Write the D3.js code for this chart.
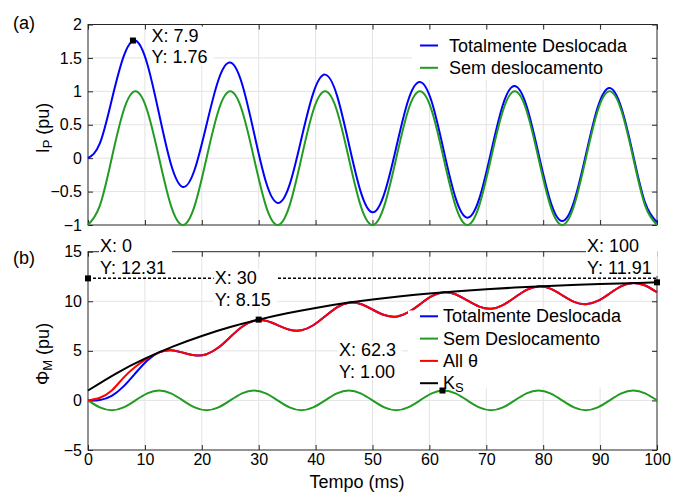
<!DOCTYPE html>
<html>
<head>
<meta charset="utf-8">
<script src="https://cdn.jsdelivr.net/npm/d3@7"></script>
<style>
body { margin: 0; background: #fff; }
text { font-family: "Liberation Sans", Arial, sans-serif; fill: #000; }
</style>
</head>
<body>
<script>
// time axis (ms), one sample every 1/8 cycle of 60 Hz
var tempo = [0, 2.08, 4.17, 6.25, 8.33, 10.42, 12.5, 14.58,
  16.67, 18.75, 20.83, 22.92, 25, 27.08, 29.17, 31.25,
  33.33, 35.42, 37.5, 39.58, 41.67, 43.75, 45.83, 47.92,
  50, 52.08, 54.17, 56.25, 58.33, 60.42, 62.5, 64.58,
  66.67, 68.75, 70.83, 72.92, 75, 77.08, 79.17, 81.25,
  83.33, 85.42, 87.5, 89.58, 91.67, 93.75, 95.83, 97.92, 100];

// (a) current
var ipDeslocada = [0, 0.22, 0.87, 1.52, 1.76, 1.41, 0.66, -0.09,
  -0.43, -0.17, 0.50, 1.17, 1.43, 1.11, 0.38, -0.35,
  -0.67, -0.40, 0.29, 0.97, 1.25, 0.94, 0.22, -0.50,
  -0.81, -0.53, 0.16, 0.86, 1.14, 0.84, 0.12, -0.59,
  -0.89, -0.61, 0.09, 0.80, 1.08, 0.78, 0.07, -0.64,
  -0.94, -0.65, 0.05, 0.76, 1.05, 0.75, 0.04, -0.67, -0.96];
var ipSem = [-1, -0.71, 0, 0.71, 1, 0.71, 0, -0.71,
  -1, -0.71, 0, 0.71, 1, 0.71, 0, -0.71,
  -1, -0.71, 0, 0.71, 1, 0.71, 0, -0.71,
  -1, -0.71, 0, 0.71, 1, 0.71, 0, -0.71,
  -1, -0.71, 0, 0.71, 1, 0.71, 0, -0.71,
  -1, -0.71, 0, 0.71, 1, 0.71, 0, -0.71, -1];

// (b) flux
var phiDeslocada = [0, 0.05, 0.47, 1.42, 2.74, 4.03, 4.85, 5.06,
  4.82, 4.55, 4.66, 5.33, 6.39, 7.43, 8.03, 8.03,
  7.59, 7.13, 7.07, 7.58, 8.49, 9.39, 9.86, 9.73,
  9.17, 8.61, 8.45, 8.87, 9.69, 10.51, 10.90, 10.71,
  10.08, 9.46, 9.24, 9.61, 10.38, 11.15, 11.50, 11.27,
  10.61, 9.94, 9.70, 10.03, 10.78, 11.52, 11.85, 11.59, 10.91];
var phiSem = [0, -0.71, -1, -0.71, 0, 0.71, 1, 0.71,
  0, -0.71, -1, -0.71, 0, 0.71, 1, 0.71,
  0, -0.71, -1, -0.71, 0, 0.71, 1, 0.71,
  0, -0.71, -1, -0.71, 0, 0.71, 1, 0.71,
  0, -0.71, -1, -0.71, 0, 0.71, 1, 0.71,
  0, -0.71, -1, -0.71, 0, 0.71, 1, 0.71, 0];
var phiAll = [0, 0.27, 1.00, 2.30, 3.40, 4.25, 4.85, 5.06,
  4.82, 4.55, 4.66, 5.33, 6.39, 7.43, 8.03, 8.03,
  7.59, 7.13, 7.07, 7.58, 8.49, 9.39, 9.86, 9.73,
  9.17, 8.61, 8.45, 8.87, 9.69, 10.51, 10.90, 10.71,
  10.08, 9.46, 9.24, 9.61, 10.38, 11.15, 11.50, 11.27,
  10.61, 9.94, 9.70, 10.03, 10.78, 11.52, 11.85, 11.59, 10.91];
var tempoKs = [0, 5, 10, 15, 20, 25, 30, 35, 40, 45, 50,
  55, 60, 65, 70, 75, 80, 85, 90, 95, 100];
var ks = [1.00, 2.74, 4.21, 5.45, 6.50, 7.40, 8.15, 8.79, 9.33, 9.79, 10.17,
  10.50, 10.78, 11.01, 11.21, 11.38, 11.52, 11.64, 11.75, 11.83, 11.91];
var ksLimite = 12.31;

var xTicks = [0, 10, 20, 30, 40, 50, 60, 70, 80, 90, 100];
var yTicksA = [-1, -0.5, 0, 0.5, 1, 1.5, 2];
var yTicksB = [-5, 0, 5, 10, 15];

// data tips: [x, y, label x, label y]
var tipsA = [[7.9, 1.76, "X: 7.9", "Y: 1.76"]];
var tipsB = [[0, 12.31, "X: 0", "Y: 12.31"],
  [30, 8.15, "X: 30", "Y: 8.15"],
  [62.3, 1.00, "X: 62.3", "Y: 1.00"],
  [100, 11.91, "X: 100", "Y: 11.91"]];

var width = 684, height = 497;
var green = "#229b22";

var svg = d3.select("body").append("svg")
    .attr("width", width)
    .attr("height", height);

var x = d3.scaleLinear().domain([0, 100]).range([88, 657]);
var yA = d3.scaleLinear().domain([-1, 2]).range([225, 24.5]);
var yB = d3.scaleLinear().domain([-5, 15]).range([450, 251.7]);

function panel(y, yTicks, showX) {
  var g = svg.append("g");
  // grid
  g.selectAll(".gx").data(xTicks.slice(1, -1)).enter().append("line")
    .attr("x1", x).attr("x2", x)
    .attr("y1", y.range()[0]).attr("y2", y.range()[1])
    .attr("stroke", "#e3e3e3");
  g.selectAll(".gy").data(yTicks.slice(1, -1)).enter().append("line")
    .attr("x1", 88).attr("x2", 657)
    .attr("y1", y).attr("y2", y)
    .attr("stroke", "#e3e3e3");
  // box
  g.append("rect")
    .attr("x", 88).attr("y", y.range()[1])
    .attr("width", 569).attr("height", y.range()[0] - y.range()[1])
    .attr("fill", "none").attr("stroke", "#262626").attr("stroke-width", 1);

  var fmt = d3.format("");
  g.append("g").attr("transform", "translate(88,0)")
    .call(d3.axisLeft(y).tickValues(yTicks).tickSizeInner(-5).tickSizeOuter(0).tickPadding(6).tickFormat(fmt));
  g.append("g").attr("transform", "translate(657,0)")
    .call(d3.axisRight(y).tickValues(yTicks).tickSizeInner(-5).tickSizeOuter(0).tickFormat(""));
  g.append("g").attr("transform", "translate(0," + y.range()[0] + ")")
    .call(d3.axisBottom(x).tickValues(xTicks).tickSizeInner(-5).tickSizeOuter(0).tickPadding(4)
      .tickFormat(showX ? fmt : ""));
  g.append("g").attr("transform", "translate(0," + y.range()[1] + ")")
    .call(d3.axisTop(x).tickValues(xTicks).tickSizeInner(-5).tickSizeOuter(0).tickFormat(""));
  g.selectAll(".domain").remove();
  g.selectAll(".tick line").attr("stroke", "#262626");
  g.selectAll(".tick text").attr("font-size", 16).attr("fill", "#000")
    .style("font-family", '"Liberation Sans", Arial, sans-serif');
  return g;
}

function curve(y, xs, ys, color) {
  var line = d3.line()
    .x(function(d, i) { return x(xs[i]); })
    .y(function(d) { return y(d); })
    .curve(d3.curveNatural);
  svg.append("path")
    .attr("d", line(ys))
    .attr("fill", "none")
    .attr("stroke", color)
    .attr("stroke-width", 2);
}

function legend(items, lx, tx, ly, box) {
  var g = svg.append("g");
  g.append("rect").attr("x", box[0]).attr("y", box[1])
    .attr("width", box[2]).attr("height", box[3]).attr("fill", "#fff");
  items.forEach(function(d, i) {
    var yy = ly + i * 22.3;
    g.append("line").attr("x1", lx).attr("x2", lx + 18)
      .attr("y1", yy - 6).attr("y2", yy - 6)
      .attr("stroke", d[1]).attr("stroke-width", 2);
    var t = g.append("text").attr("x", tx).attr("y", yy).attr("font-size", 18);
    t.append("tspan").text(d[0]);
    if (d[2]) t.append("tspan").attr("font-size", 13).attr("dy", 3).text(d[2]);
  });
}

function tips(y, list, offs) {
  list.forEach(function(d, i) {
    var px = x(d[0]), py = y(d[1]);
    var g = svg.append("g");
    var bg = g.append("rect").attr("fill", "#fff");
    var bx = px + offs[i][0], by = py + offs[i][1];
    var t1 = g.append("text").attr("x", bx).attr("y", by)
      .attr("font-size", 18).text(d[2]);
    var t2 = g.append("text").attr("x", bx).attr("y", by + 21.6)
      .attr("font-size", 18).text(d[3]);
    var b1 = t1.node().getBBox(), b2 = t2.node().getBBox();
    var x1 = Math.max(b1.x + b1.width, b2.x + b2.width) + 6;
    bg.attr("x", bx - 1).attr("y", by - 15)
      .attr("width", x1 - bx + 1).attr("height", 21.6 + 17);
    svg.append("rect").attr("x", px - 3).attr("y", py - 3)
      .attr("width", 6).attr("height", 6).attr("fill", "#000");
  });
}

// (a)
panel(yA, yTicksA, false);
curve(yA, tempo, ipDeslocada, "#0000ff");
curve(yA, tempo, ipSem, green);
legend([["Totalmente Deslocada", "#0000ff"], ["Sem deslocamento", green]],
  420, 449, 51.5, [412, 30, 238, 50]);
tips(yA, tipsA, [[18.5, 1]]);

// (b)
panel(yB, yTicksB, true);
curve(yB, tempo, phiDeslocada, "#0000ff");
curve(yB, tempo, phiSem, green);
curve(yB, tempo, phiAll, "#ff0000");
curve(yB, tempoKs, ks, "#000");
svg.append("line")
  .attr("x1", x(0)).attr("x2", x(100))
  .attr("y1", yB(ksLimite)).attr("y2", yB(ksLimite))
  .attr("stroke", "#000").attr("stroke-width", 1.5).attr("stroke-dasharray", "3,2");
legend([["Totalmente Deslocada", "#0000ff"], ["Sem Deslocamento", green],
  ["All \u03b8", "#ff0000"], ["K", "#000", "S"]],
  420, 443, 322.3, [408, 310.5, 244, 77]);
tips(yB, tipsB, [[12, -26], [-44, -35.5], [-103.5, -34.5], [-70, -30]]);

// labels
svg.append("text").attr("x", 13).attr("y", 29).attr("font-size", 18).text("(a)");
svg.append("text").attr("x", 13).attr("y", 264).attr("font-size", 18).text("(b)");

var la = svg.append("text").attr("transform", "translate(49,128) rotate(-90)")
  .attr("text-anchor", "middle").attr("font-size", 18);
la.append("tspan").text("I");
la.append("tspan").attr("font-size", 13).attr("dy", 3).text("P");
la.append("tspan").attr("dy", -3).text(" (pu)");

var lb = svg.append("text").attr("transform", "translate(49,354) rotate(-90)")
  .attr("text-anchor", "middle").attr("font-size", 18);
lb.append("tspan").text("\u03a6");
lb.append("tspan").attr("font-size", 13).attr("dy", 3).text("M");
lb.append("tspan").attr("dy", -3).text(" (pu)");

svg.append("text").attr("x", 357).attr("y", 488).attr("text-anchor", "middle")
  .attr("font-size", 18).text("Tempo (ms)");
</script>
</body>
</html>
